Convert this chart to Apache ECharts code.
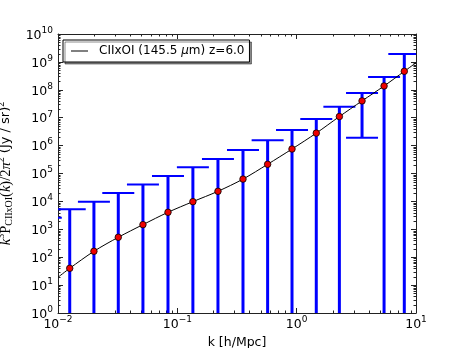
<!DOCTYPE html>
<html>
<head>
<meta charset="utf-8">
<script src="https://cdn.jsdelivr.net/npm/echarts@6/dist/echarts.min.js"></script>
<style>html,body{margin:0;padding:0;background:#fff}#c{width:463px;height:348px}</style>
</head>
<body>
<div id="c"></div>
<script>
// k values [h/Mpc] of the binned points (first one lies just left of the plotted range)
var kVals = [0.0079, 0.01254, 0.0200, 0.0320, 0.0515, 0.0835, 0.135, 0.219, 0.355, 0.571, 0.914, 1.46, 2.28, 3.53, 5.40, 7.98];
// k^3 P(k) / 2pi^2 values at the points
var powerVals = [10, 40, 163, 518, 1470, 4070, 9800, 23000, 63000, 214000, 755000, 2.8e6, 1.1e7, 4.0e7, 1.37e8, 4.6e8];
// upper ends of error bars
var upperVals = [2600, 5200, 9800, 20000, 40000, 81000, 1.66e5, 3.3e5, 6.9e5, 1.55e6, 3.6e6, 9.0e6, 2.47e7, 7.7e7, 2.9e8, 1.9e9];
// lower ends of error bars (0 = extends below the plotted range)
var lowerVals = [0, 0, 0, 0, 0, 0, 0, 0, 0, 0, 0, 0, 0, 1.9e6, 0, 0];
// model curve
var modelK = [0.01, 0.01254, 0.0200, 0.0320, 0.0515, 0.0835, 0.135, 0.219, 0.355, 0.571, 0.914, 1.46, 2.28, 3.53, 5.40, 7.98, 10];
var modelV = [19, 40, 163, 518, 1470, 4070, 9800, 23000, 63000, 214000, 755000, 2.8e6, 1.1e7, 4.0e7, 1.37e8, 4.6e8, 9.3e8];
var seriesName = 'CIIxOI (145.5 μm) z=6.0';
var xMin = 0.01, xMax = 10, yMin = 1, yMax = 1e10;

var chart = echarts.init(document.getElementById('c'));

function expLabel(v) {
  var e = Math.round(Math.log10(v));
  return '{b|10}{s|' + String(e).replace('-', '\u2212') + '}';
}
var tickRich = {
  b: {fontSize: 12.5, fontFamily: 'DejaVu Sans', color: '#000', verticalAlign: 'bottom', lineHeight: 16},
  s: {fontSize: 9, fontFamily: 'DejaVu Sans', color: '#000', verticalAlign: 'top', lineHeight: 16}
};
var axisLineStyle = {color: '#222', width: 1};

function minorTicks(params, api) {
  var cs = params.coordSys;
  var kids = [];
  var L = 2.5;
  var st = {stroke: '#222', lineWidth: 1};
  for (var d = -2; d < 1; d++) {
    for (var m = 2; m < 10; m++) {
      var v = m * Math.pow(10, d);
      var x = Math.round(api.coord([v, 1])[0]) + 0.5;
      kids.push({type: 'line', shape: {x1: x, y1: cs.y + cs.height, x2: x, y2: cs.y + cs.height - L}, style: st});
      kids.push({type: 'line', shape: {x1: x, y1: cs.y, x2: x, y2: cs.y + L}, style: st});
    }
  }
  for (var e = 0; e < 10; e++) {
    for (var n = 2; n < 10; n++) {
      var w = n * Math.pow(10, e);
      var y = Math.round(api.coord([1, w])[1]) + 0.5;
      kids.push({type: 'line', shape: {x1: cs.x, y1: y, x2: cs.x + L, y2: y}, style: st});
      kids.push({type: 'line', shape: {x1: cs.x + cs.width, y1: y, x2: cs.x + cs.width - L, y2: y}, style: st});
    }
  }
  return {type: 'group', children: kids};
}

function errorBars(params, api) {
  var cs = params.coordSys;
  var k = api.value(0);
  var x = api.coord([k, 1])[0];
  var yTop = api.coord([k, api.value(1)])[1];
  var lo = api.value(2);
  var yBot = lo > 0 ? api.coord([k, lo])[1] : cs.y + cs.height + 5;
  var half = 16;
  var kids = [
    {type: 'line', shape: {x1: x, y1: yBot, x2: x, y2: yTop}, style: {stroke: '#0000ff', lineWidth: 3}},
    {type: 'line', shape: {x1: x - half, y1: yTop, x2: x + half, y2: yTop}, style: {stroke: '#0000ff', lineWidth: 2}}
  ];
  if (lo > 0) {
    kids.push({type: 'line', shape: {x1: x - half, y1: yBot, x2: x + half, y2: yBot}, style: {stroke: '#0000ff', lineWidth: 2}});
  }
  return {type: 'group', children: kids};
}

var option = {
  animation: false,
  backgroundColor: '#fff',
  grid: {left: 58, top: 34, width: 358, height: 279, containLabel: false, outerBoundsMode: 'none'},
  legend: {
    left: 63, top: 40, z: 20,
    data: [seriesName],
    icon: 'rect', itemWidth: 17, itemHeight: 1,
    padding: [5, 5, 5, 8],
    backgroundColor: '#fff', borderColor: '#000', borderWidth: 1, borderRadius: 0,
    shadowColor: 'rgba(0,0,0,0.45)', shadowOffsetX: 2, shadowOffsetY: 2, shadowBlur: 0,
    itemStyle: {color: '#000'},
    formatter: function () { return '{a|CIIxOI (145.5 }{m|μ}{a|m) z=6.0}'; },
    textStyle: {
      rich: {
        a: {fontSize: 12, fontFamily: 'DejaVu Sans', color: '#000', lineHeight: 12},
        m: {fontSize: 12, fontFamily: 'DejaVu Sans', fontStyle: 'italic', color: '#000', lineHeight: 12}
      },
      padding: [0, 0, 0, 6]
    }
  },
  xAxis: [{
    type: 'log', logBase: 10, min: xMin, max: xMax, interval: 1, position: 'bottom',
    axisLine: {lineStyle: axisLineStyle},
    axisTick: {inside: true, length: 5, lineStyle: axisLineStyle},
    splitLine: {show: false},
    axisLabel: {formatter: expLabel, rich: tickRich, margin: 2},
    name: 'k [h/Mpc]', nameLocation: 'middle', nameGap: 19,
    nameTextStyle: {fontSize: 12.5, fontFamily: 'DejaVu Sans', color: '#000'}
  }, {
    type: 'log', logBase: 10, min: xMin, max: xMax, interval: 1, position: 'top',
    axisLine: {lineStyle: axisLineStyle},
    axisTick: {inside: true, length: 5, lineStyle: axisLineStyle},
    splitLine: {show: false}, axisLabel: {show: false}
  }],
  yAxis: [{
    type: 'log', logBase: 10, min: yMin, max: yMax, interval: 1, position: 'left',
    axisLine: {lineStyle: axisLineStyle},
    axisTick: {inside: true, length: 5, lineStyle: axisLineStyle},
    splitLine: {show: false},
    axisLabel: {formatter: expLabel, rich: tickRich, margin: 5},
    name: '{i|k}{sup|3}{r|P}{sub|CIIxOI}{r|(}{i|k}{r|)/2}{i|π}{sup|2}{s| (Jy / sr)}{sup|2}',
    nameLocation: 'middle', nameRotate: 90, nameGap: 34,
    nameTextStyle: {
      rich: {
        i: {fontSize: 14.5, fontFamily: 'Liberation Serif', fontStyle: 'italic', color: '#000', verticalAlign: 'middle', lineHeight: 18},
        r: {fontSize: 14.5, fontFamily: 'Liberation Serif', color: '#000', verticalAlign: 'middle', lineHeight: 18},
        sub: {fontSize: 10, fontFamily: 'Liberation Serif', color: '#000', verticalAlign: 'bottom', lineHeight: 18},
        sup: {fontSize: 10, fontFamily: 'Liberation Serif', color: '#000', verticalAlign: 'top', lineHeight: 18},
        s: {fontSize: 13, fontFamily: 'DejaVu Sans', color: '#000', verticalAlign: 'middle', lineHeight: 18}
      }
    }
  }, {
    type: 'log', logBase: 10, min: yMin, max: yMax, interval: 1, position: 'right',
    axisLine: {lineStyle: axisLineStyle},
    axisTick: {inside: true, length: 5, lineStyle: axisLineStyle},
    splitLine: {show: false}, axisLabel: {show: false}
  }],
  series: [{
    type: 'custom', name: 'err', xAxisIndex: 0, yAxisIndex: 0, clip: true, z: 2, silent: true,
    renderItem: errorBars,
    data: kVals.map(function (k, i) { return [k, upperVals[i], lowerVals[i]]; })
  }, {
    type: 'line', name: seriesName, xAxisIndex: 0, yAxisIndex: 0, clip: true, z: 3,
    symbol: 'none', smooth: 0.3,
    lineStyle: {color: '#000', width: 1},
    itemStyle: {color: '#000'},
    data: modelK.map(function (k, i) { return [k, modelV[i]]; })
  }, {
    type: 'scatter', name: 'pts', xAxisIndex: 0, yAxisIndex: 0, clip: true, z: 4,
    symbol: 'circle', symbolSize: 6.5,
    itemStyle: {color: '#ee0000', borderColor: '#000', borderWidth: 0.8, opacity: 1},
    data: kVals.map(function (k, i) { return [k, powerVals[i]]; })
  }, {
    type: 'custom', name: 'minor', xAxisIndex: 0, yAxisIndex: 0, clip: false, z: 1, silent: true,
    renderItem: minorTicks,
    data: [[1, 1]]
  }]
};
chart.setOption(option);
</script>
</body>
</html>
